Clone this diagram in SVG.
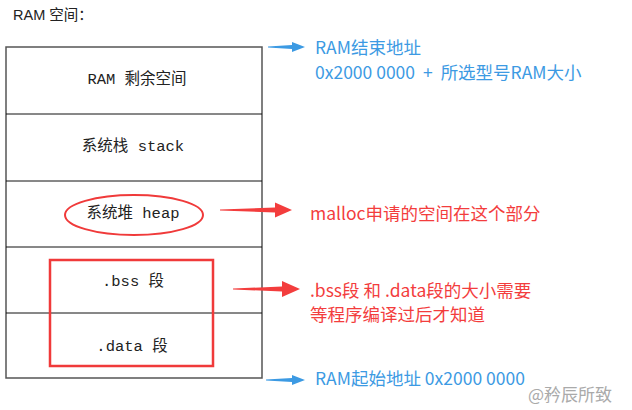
<svg xmlns="http://www.w3.org/2000/svg" width="632" height="410" viewBox="0 0 632 410">
<style>
.box{fill:#fff;stroke:#555;stroke-width:1.5}
.div{stroke:#111;stroke-width:1}
.cell{font-family:"Liberation Mono","Noto Sans CJK SC",monospace;font-size:15.5px;fill:#222;text-anchor:middle;dominant-baseline:central}
.note{font-family:"Noto Sans CJK SC","Liberation Sans",sans-serif;font-size:17.5px;dominant-baseline:central}
.blue{fill:#3c9ae3}
.red{fill:#f33d3d}
</style>
<rect width="632" height="410" fill="#fff"/>
<text x="13" y="15" style="font-family:'Liberation Sans','Noto Sans CJK SC',sans-serif;font-size:14.5px;fill:#222;dominant-baseline:central">RAM 空间：</text>
<g id="ram">
<rect class="box" x="6" y="47" width="256" height="331"/>
<line class="div" x1="6" y1="114" x2="262" y2="114"/>
<line class="div" x1="6" y1="181" x2="262" y2="181"/>
<line class="div" x1="6" y1="247" x2="262" y2="247"/>
<line class="div" x1="6" y1="313" x2="262" y2="313"/>
</g>
<g id="free"><text class="cell" x="137" y="80">RAM 剩余空间</text></g>
<g id="stack"><text class="cell" x="133" y="147">系统栈 stack</text></g>
<g id="heap"><ellipse cx="134" cy="215" rx="69" ry="20" fill="none" stroke="#f03a3a" stroke-width="2"/><text class="cell" x="133" y="214">系统堆 heap</text></g>
<g id="bss"><text class="cell" x="133" y="282">.bss 段</text></g>
<g id="data"><text class="cell" x="132" y="347">.data 段</text></g>
<rect x="50" y="260" width="163" height="106" fill="none" stroke="#f03a3a" stroke-width="2.5"/>
<g id="connectors">
<polygon class="blue" points="268,46.5 292,45 292,42 305,47 292,52 292,49 268,47.5"/>
<polygon class="red" points="220,209.5 275,207.5 275,202.5 292,210 275,217.5 275,212.5 220,210.5"/>
<polygon class="red" points="233,288.5 282,286.5 282,281 300,289 282,297 282,291.5 233,289.5"/>
<polygon class="blue" points="266,379.5 292,378 292,375 305,380 292,385 292,382 266,380.5"/>
</g>
<g id="end"><text class="note blue" x="315" y="46">RAM结束地址</text><text class="note blue" x="315" y="71">0x2000 0000<tspan word-spacing="4"> + </tspan>所选型号RAM大小</text></g>
<g id="malloc"><text class="note red" x="310" y="212">malloc申请的空间在这个部分</text></g>
<g id="size"><text class="note red" x="310" y="289">.bss段 和 .data段的大小需要</text><text class="note red" x="310" y="313">等程序编译过后才知道</text></g>
<g id="start"><text class="note blue" x="315" y="377">RAM起始地址 0x2000 0000</text></g>
<text x="528" y="393" style="font-family:'Noto Sans CJK SC',sans-serif;font-size:17px;fill:#aaa;dominant-baseline:central">@矜辰所致</text>
</svg>
